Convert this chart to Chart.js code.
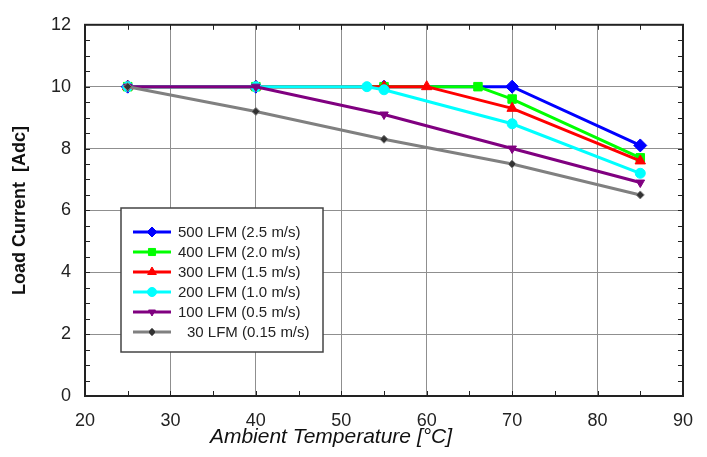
<!DOCTYPE html>
<html><head><meta charset="utf-8">
<script src="https://cdn.jsdelivr.net/npm/chart.js@4.4.1/dist/chart.umd.min.js"></script>
<style>html,body{margin:0;padding:0;background:#fff;}#wrap{position:relative;width:707px;height:457px;}</style>
</head><body><div id="wrap"><canvas id="c" width="707" height="457"></canvas></div>
<script>
// ---- data ----
const temps500 = [25, 40, 55, 70, 85];
const load500  = [10, 10, 10, 10, 8.1];
const temps400 = [25, 40, 55, 66, 70, 85];
const load400  = [10, 10, 10, 10, 9.6, 7.7];
const temps300 = [25, 40, 55, 60, 70, 85];
const load300  = [10, 10, 10, 10, 9.3, 7.6];
const temps200 = [25, 40, 53, 55, 70, 85];
const load200  = [10, 10, 10, 9.9, 8.8, 7.2];
const temps100 = [25, 40, 55, 70, 85];
const load100  = [10, 10, 9.1, 8.0, 6.9];
const temps30  = [25, 40, 55, 70, 85];
const load30   = [10, 9.2, 8.3, 7.5, 6.5];
const seriesLabels = ['500 LFM (2.5 m/s)', '400 LFM (2.0 m/s)', '300 LFM (1.5 m/s)',
                      '200 LFM (1.0 m/s)', '100 LFM (0.5 m/s)', '30 LFM (0.15 m/s)'];
const xTickLabels = ['20', '30', '40', '50', '60', '70', '80', '90'];
const yTickLabels = ['0', '2', '4', '6', '8', '10', '12'];
const xTitle = 'Ambient Temperature [°C]';
const yTitle = 'Load Current  [Adc]';

const FONT = "'Liberation Sans', Arial, sans-serif";
const pts = (xs, ys) => xs.map((x, i) => ({x: x, y: ys[i]}));

const styles = [
  {color: '#0000ff', pointStyle: 'rectRot', radius: 6.5, rotation: 0, fill: '#0000ff', lr: 5},
  {color: '#00ff00', pointStyle: 'rect', radius: 6, rotation: 0, fill: '#00ff00', lr: 5},
  {color: '#ff0000', pointStyle: 'triangle', radius: 6, rotation: 0, fill: '#ff0000', lr: 5},
  {color: '#00ffff', pointStyle: 'circle', radius: 5, rotation: 0, fill: '#00ffff', lr: 4.5},
  {color: '#800080', pointStyle: 'triangle', radius: 5, rotation: 180, fill: '#800080', lr: 4},
  {color: '#808080', pointStyle: 'rectRot', radius: 4, rotation: 0, fill: '#333333', lr: 4}
];
const seriesData = [pts(temps500, load500), pts(temps400, load400), pts(temps300, load300),
                    pts(temps200, load200), pts(temps100, load100), pts(temps30, load30)];

const datasets = seriesData.map((d, i) => ({
  label: seriesLabels[i],
  data: d,
  borderColor: styles[i].color,
  backgroundColor: styles[i].fill,
  borderWidth: 3,
  pointStyle: styles[i].pointStyle,
  pointRadius: styles[i].radius,
  pointRotation: styles[i].rotation,
  pointBackgroundColor: styles[i].fill,
  pointBorderColor: styles[i].color,
  pointBorderWidth: 1,
  tension: 0,
  fill: false,
  order: 6 - i
}));

const framePlugin = {
  id: 'frame',
  beforeDatasetsDraw(chart) {
    const {ctx, chartArea: a, scales: {x, y}} = chart;
    ctx.save();
    ctx.strokeStyle = '#222';
    ctx.lineWidth = 1;
    ctx.beginPath();
    for (let v = 25; v < 90; v += 5) {
      const px = Math.round(x.getPixelForValue(v)) + 0.5;
      ctx.moveTo(px, a.bottom); ctx.lineTo(px, a.bottom - 5);
      ctx.moveTo(px, a.top); ctx.lineTo(px, a.top + 5);
    }
    for (let v = 0.5; v < 12; v += 0.5) {
      const py = Math.round(y.getPixelForValue(v)) + 0.5;
      ctx.moveTo(a.left, py); ctx.lineTo(a.left + 5, py);
      ctx.moveTo(a.right, py); ctx.lineTo(a.right - 5, py);
    }
    ctx.stroke();
    ctx.lineWidth = 2;
    ctx.strokeRect(a.left, a.top, a.right - a.left, a.bottom - a.top);
    ctx.restore();
  }
};

const legendPlugin = {
  id: 'boxLegend',
  afterDatasetsDraw(chart) {
    const ctx = chart.ctx;
    const bx = 121, by = 208, bw = 202, bh = 144;
    ctx.save();
    ctx.fillStyle = '#ffffff';
    ctx.fillRect(bx, by, bw, bh);
    ctx.strokeStyle = '#444';
    ctx.lineWidth = 1.5;
    ctx.strokeRect(bx, by, bw, bh);
    ctx.font = '15px ' + FONT;
    ctx.textBaseline = 'middle';
    ctx.textAlign = 'left';
    chart.data.datasets.forEach((ds, i) => {
      const yy = 232 + i * 20;
      const st = styles[i];
      ctx.strokeStyle = st.color;
      ctx.lineWidth = 3;
      ctx.beginPath(); ctx.moveTo(133, yy); ctx.lineTo(171, yy); ctx.stroke();
      ctx.fillStyle = st.fill;
      ctx.strokeStyle = st.color;
      ctx.lineWidth = 1;
      Chart.helpers.drawPoint(ctx, {pointStyle: st.pointStyle, radius: st.lr, rotation: st.rotation, borderWidth: 1}, 152, yy);
      ctx.fillStyle = '#222';
      ctx.fillText(ds.label, i === 5 ? 187 : 178, yy + 1);
    });
    ctx.restore();
  }
};

const xTitlePlugin = {
  id: 'xTitle',
  afterDraw(chart) {
    const ctx = chart.ctx;
    ctx.save();
    ctx.font = 'italic 21px ' + FONT;
    ctx.fillStyle = '#111';
    ctx.textAlign = 'center';
    ctx.textBaseline = 'alphabetic';
    ctx.fillText(xTitle, 331, 443);
    ctx.restore();
  }
};

new Chart(document.getElementById('c'), {
  type: 'line',
  data: {datasets: datasets},
  options: {
    responsive: false,
    animation: false,
    events: [],
    layout: {padding: {top: 13, right: 24, left: 0, bottom: 0}},
    plugins: {legend: {display: false}, tooltip: {enabled: false}},
    scales: {
      x: {
        type: 'linear', min: 20, max: 90,
        afterFit(s) { s.height = 61; },
        border: {display: false},
        grid: {
          drawTicks: false,
          lineWidth: 1,
          color: c => (c.tick && xTickLabels.includes(String(c.tick.value))) ? '#8f8f8f' : 'rgba(0,0,0,0)'
        },
        ticks: {
          stepSize: 5, autoSkip: false, maxRotation: 0, padding: 14,
          color: '#222', font: {family: FONT, size: 18},
          callback: v => xTickLabels.includes(String(v)) ? String(v) : ''
        }
      },
      y: {
        type: 'linear', min: 0, max: 12,
        afterFit(s) { s.width = 85; },
        border: {display: false},
        grid: {
          drawTicks: false,
          lineWidth: 1,
          color: c => (c.tick && yTickLabels.includes(String(c.tick.value))) ? '#8f8f8f' : 'rgba(0,0,0,0)'
        },
        ticks: {
          stepSize: 0.5, autoSkip: false, padding: 14,
          color: '#222', font: {family: FONT, size: 18},
          callback: v => yTickLabels.includes(String(v)) ? String(v) : ''
        },
        title: {
          display: true, text: yTitle, color: '#111',
          font: {family: FONT, size: 18, weight: 'bold'},
          padding: {top: 9, bottom: 0}
        }
      }
    }
  },
  plugins: [framePlugin, legendPlugin, xTitlePlugin]
});
</script>
</body></html>
